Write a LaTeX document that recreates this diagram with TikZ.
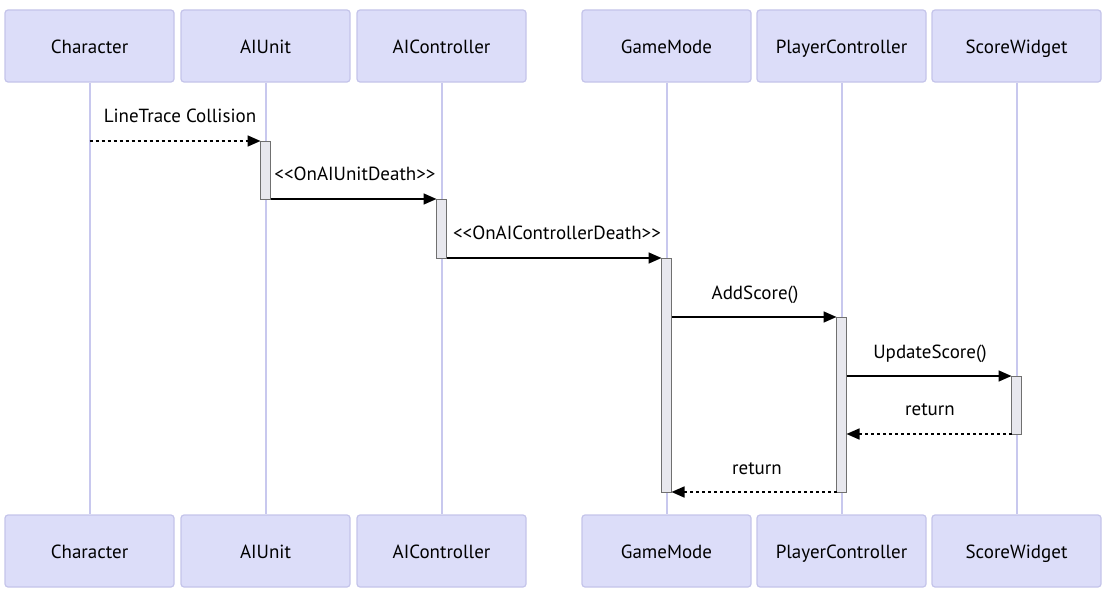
\documentclass[tikz,border=0pt]{standalone}
\usepackage{fontspec}
\setmainfont{PT Sans}
\usetikzlibrary{arrows.meta}
\definecolor{actfill}{HTML}{DCDDF9}
\definecolor{actdraw}{HTML}{C4C4EA}
\definecolor{lifec}{HTML}{C8C8EE}
\definecolor{barfill}{HTML}{E8E8EE}
\definecolor{bardraw}{HTML}{707070}
\tikzset{
  actor/.style={draw=actdraw, fill=actfill, line width=1.2pt, rounded corners=3pt,
    minimum width=169pt, minimum height=72pt, inner sep=0pt,
    text height=13pt, text depth=4pt,
    font=\fontsize{19}{22}\selectfont},
  atext/.style={inner sep=0pt, text height=13pt, text depth=4pt, font=\fontsize{19}{22}\selectfont},
  life/.style={draw=lifec, line width=2pt},
  bar/.style={draw=bardraw, fill=barfill, line width=1pt, minimum width=10pt, inner sep=0pt, outer sep=0pt},
  msg/.style={draw=black, line width=1.6pt, -{Triangle[length=13pt,width=11pt]}},
  ret/.style={msg, dash pattern=on 3pt off 3pt},
  lbl/.style={font=\fontsize{19}{22}\selectfont, inner sep=0pt, text height=13pt, text depth=4pt}
}
\begin{document}
\begin{tikzpicture}[x=1pt,y=-1pt]
\useasboundingbox (0,0) rectangle (1105,602);
% top actors
\node[actor] (tC) at (89.5,46) {};
\node[actor] (tU) at (265.5,46) {};
\node[actor] (tA) at (441.5,46) {};
\node[actor] (tG) at (666.5,46) {};
\node[actor] (tP) at (841.5,46) {};
\node[actor] (tS) at (1016.5,46) {};
% bottom actors
\node[actor] (bC) at (89.5,551) {};
\node[actor] (bU) at (265.5,551) {};
\node[actor] (bA) at (441.5,551) {};
\node[actor] (bG) at (666.5,551) {};
\node[actor] (bP) at (841.5,551) {};
\node[actor] (bS) at (1016.5,551) {};
% actor names
\node[atext] (ntC) at ([yshift=-2.5pt]tC.center) {Character};
\node[atext] (ntU) at ([yshift=-2.5pt]tU.center) {AIUnit};
\node[atext] (ntA) at ([yshift=-2.5pt]tA.center) {AIController};
\node[atext] (ntG) at ([yshift=-2.5pt]tG.center) {GameMode};
\node[atext] (ntP) at ([yshift=-2.5pt]tP.center) {PlayerController};
\node[atext] (ntS) at ([yshift=-2.5pt]tS.center) {ScoreWidget};
\node[atext] (nbC) at ([yshift=-2.5pt]bC.center) {Character};
\node[atext] (nbU) at ([yshift=-2.5pt]bU.center) {AIUnit};
\node[atext] (nbA) at ([yshift=-2.5pt]bA.center) {AIController};
\node[atext] (nbG) at ([yshift=-2.5pt]bG.center) {GameMode};
\node[atext] (nbP) at ([yshift=-2.5pt]bP.center) {PlayerController};
\node[atext] (nbS) at ([yshift=-2.5pt]bS.center) {ScoreWidget};
% lifelines
\foreach \n in {C,U,A,G,P,S}{
  \draw[life] (t\n.south) -- (b\n.north);
}
% activation bars
\node[bar, minimum height=58pt] (aU) at (265.5,170) {};
\node[bar, minimum height=59pt] (aA) at (441.5,228.5) {};
\node[bar, minimum height=234pt] (aG) at (666.5,375) {};
\node[bar, minimum height=175pt] (aP) at (841.5,404.5) {};
\node[bar, minimum height=58pt] (aS) at (1016.5,405) {};
% messages
\coordinate (c1) at (tC.south |- aU.north);
\draw[ret] (c1) -- (aU.north west);
\node[lbl] (l1) at (180,117.5) {LineTrace Collision};
\draw[msg] (aU.south east) -- (aA.north west);
\node[lbl] (l2) at (355,175.5) {<{}<OnAIUnitDeath>{}>};
\draw[msg] (aA.south east) -- (aG.north west);
\node[lbl] (l3) at (557,234.5) {<{}<OnAIControllerDeath>{}>};
\draw[msg] (aG.east |- aP.north) -- (aP.north west);
\node[lbl] (l4) at (755,294.5) {AddScore()};
\draw[msg] (aP.east |- aS.north) -- (aS.north west);
\node[lbl] (l5) at (930,353.5) {UpdateScore()};
\draw[ret] (aS.south west) -- (aP.east |- aS.south);
\node[lbl] (l6) at (930,410.5) {return};
\draw[ret] (aP.south west) -- (aG.south east);
\node[lbl] (l7) at (757,469.5) {return};
\end{tikzpicture}
\end{document}
